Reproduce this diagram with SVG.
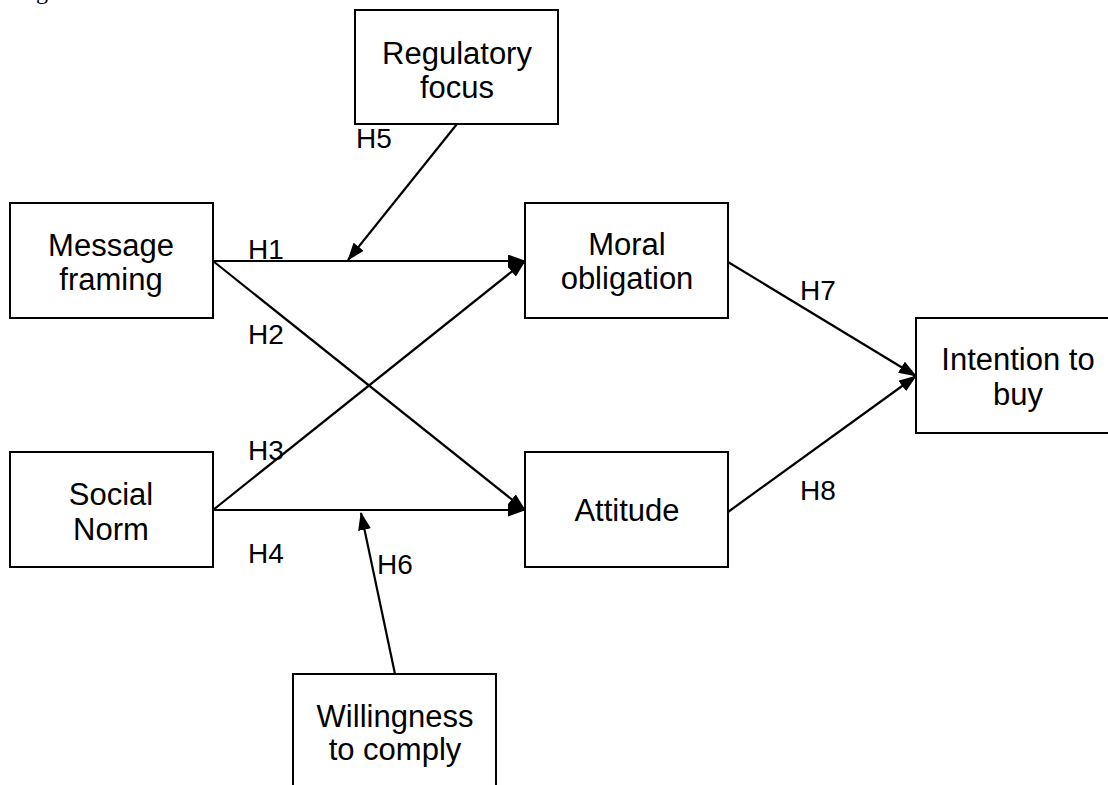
<svg xmlns="http://www.w3.org/2000/svg" width="1108" height="785" viewBox="0 0 1108 785">
<style>
.box{fill:#fff;stroke:#000;stroke-width:2}
.t{font-family:"Liberation Sans",Arial,sans-serif;font-size:31px;fill:#000;text-anchor:middle}
.h{font-family:"Liberation Sans",Arial,sans-serif;font-size:28px;fill:#000}
.c{stroke:#000;stroke-width:2.2;fill:none;marker-end:url(#ah)}
.cap{font-family:"Liberation Serif","Times New Roman",serif;font-size:24px;fill:#000}
</style>
<defs>
<marker id="ah" viewBox="0 0 18 13" refX="17" refY="6.5" markerWidth="18" markerHeight="13" markerUnits="userSpaceOnUse" orient="auto">
<path d="M0,0 L18,6.5 L0,13 z" fill="#000"/>
</marker>
</defs>
<text class="cap" x="16" y="-1">Figure</text>
<g id="connectors">
<line class="c" x1="213" y1="261" x2="525" y2="261"/>
<line class="c" x1="213" y1="261" x2="525" y2="510"/>
<line class="c" x1="213" y1="510" x2="525" y2="261"/>
<line class="c" x1="213" y1="510" x2="525" y2="510"/>
<line class="c" x1="457" y1="124" x2="348" y2="260"/>
<line class="c" x1="395" y1="674" x2="361" y2="513"/>
<line class="c" x1="728" y1="262" x2="916" y2="376"/>
<line class="c" x1="728" y1="512" x2="916" y2="376"/>
<text class="h" x="248" y="259">H1</text>
<text class="h" x="248" y="344">H2</text>
<text class="h" x="248" y="460">H3</text>
<text class="h" x="248" y="563">H4</text>
<text class="h" x="356" y="148">H5</text>
<text class="h" x="377" y="574">H6</text>
<text class="h" x="800" y="300">H7</text>
<text class="h" x="800" y="500">H8</text>
</g>
<g id="regulatory-focus">
<rect class="box" x="355" y="10" width="203" height="114"/>
<text class="t" x="457" y="64">Regulatory</text>
<text class="t" x="457" y="98">focus</text>
</g>
<g id="message-framing">
<rect class="box" x="10" y="203" width="203" height="115"/>
<text class="t" x="111" y="256">Message</text>
<text class="t" x="111" y="290">framing</text>
</g>
<g id="moral-obligation">
<rect class="box" x="525" y="203" width="203" height="115"/>
<text class="t" x="627" y="255">Moral</text>
<text class="t" x="627" y="289">obligation</text>
</g>
<g id="intention-to-buy">
<rect class="box" x="916" y="318" width="203" height="115"/>
<text class="t" x="1018" y="370">Intention to</text>
<text class="t" x="1018" y="405">buy</text>
</g>
<g id="social-norm">
<rect class="box" x="10" y="452" width="203" height="115"/>
<text class="t" x="111" y="505">Social</text>
<text class="t" x="111" y="540">Norm</text>
</g>
<g id="attitude">
<rect class="box" x="525" y="452" width="203" height="115"/>
<text class="t" x="627" y="521">Attitude</text>
</g>
<g id="willingness-to-comply">
<rect class="box" x="293" y="674" width="203" height="130"/>
<text class="t" x="395" y="727">Willingness</text>
<text class="t" x="395" y="760">to comply</text>
</g>
</svg>
